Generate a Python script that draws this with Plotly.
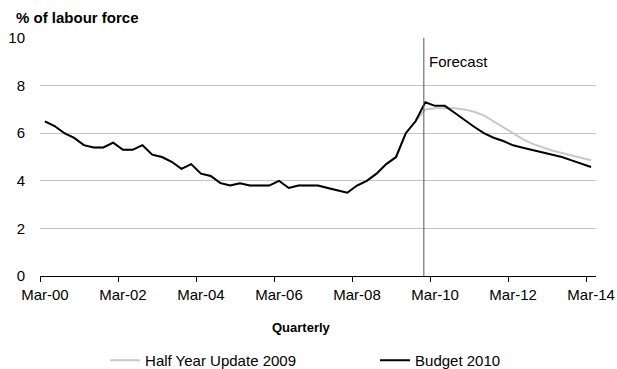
import plotly.graph_objects as go

# ---- data -------------------------------------------------------------
quarters = [f"{m}-{y:02d}" for y in range(0, 15) for m in ("Mar", "Jun", "Sep", "Dec")][:57]

budget_2010 = [
    6.5, 6.3, 6.0, 5.8, 5.5, 5.4, 5.4, 5.6, 5.3, 5.3,
    5.5, 5.1, 5.0, 4.8, 4.5, 4.7, 4.3, 4.2, 3.9, 3.8,
    3.9, 3.8, 3.8, 3.8, 4.0, 3.7, 3.8, 3.8, 3.8, 3.7,
    3.6, 3.5, 3.8, 4.0, 4.3, 4.7, 5.0, 6.0, 6.5, 7.3,
    7.15, 7.15, 6.86, 6.56, 6.27, 6.0, 5.81, 5.67, 5.49, 5.39,
    5.29, 5.19, 5.09, 5.0, 4.86, 4.72, 4.58,
]

half_year_update_2009 = [
    6.5, 6.3, 6.0, 5.8, 5.5, 5.4, 5.4, 5.6, 5.3, 5.3,
    5.5, 5.1, 5.0, 4.8, 4.5, 4.7, 4.3, 4.2, 3.9, 3.8,
    3.9, 3.8, 3.8, 3.8, 4.0, 3.7, 3.8, 3.8, 3.8, 3.7,
    3.6, 3.5, 3.8, 4.0, 4.3, 4.7, 5.0, 6.0, 6.5, 7.0,
    7.05, 7.05, 7.05, 7.0, 6.9, 6.75, 6.5, 6.25, 6.0, 5.75,
    5.55, 5.4, 5.27, 5.17, 5.07, 4.96, 4.86,
]

tick_labels = ["Mar-00", "Mar-02", "Mar-04", "Mar-06", "Mar-08", "Mar-10", "Mar-12", "Mar-14"]
forecast_label = "Forecast"
forecast_start = 38.85  # position between Sep-09 and Dec-09 quarters

# ---- derived ----------------------------------------------------------
x_idx = list(range(len(quarters)))
tick_positions = [quarters.index(t) for t in tick_labels]
boundary_ticks = [p - 0.5 for p in tick_positions]

FONT = "Liberation Sans, Arial, sans-serif"

fig = go.Figure()
fig.add_trace(go.Scatter(
    x=x_idx, y=half_year_update_2009, customdata=quarters,
    name="Half Year Update 2009", mode="lines",
    line=dict(color="#c8c8c8", width=2),
    hovertemplate="%{customdata}: %{y}<extra></extra>",
))
fig.add_trace(go.Scatter(
    x=x_idx, y=budget_2010, customdata=quarters,
    name="Budget 2010", mode="lines",
    line=dict(color="#000000", width=2),
    hovertemplate="%{customdata}: %{y}<extra></extra>",
))

fig.add_shape(type="line", xref="x", yref="y", x0=forecast_start, x1=forecast_start,
              y0=0, y1=10, line=dict(color="#555555", width=1))
fig.add_annotation(x=forecast_start, y=9, xref="x", yref="y", text=forecast_label,
                   showarrow=False, xanchor="left", yanchor="middle", xshift=3,
                   font=dict(family=FONT, size=15, color="#000000"))
fig.add_annotation(x=-0.047, y=1.085, xref="paper", yref="paper",
                   text="<b>% of labour force</b>", showarrow=False,
                   xanchor="left", yanchor="middle",
                   font=dict(family=FONT, size=15, color="#000000"))
fig.add_annotation(x=0.471, y=-0.215, xref="paper", yref="paper",
                   text="<b>Quarterly</b>", showarrow=False,
                   xanchor="center", yanchor="middle",
                   font=dict(family=FONT, size=13, color="#000000"))

fig.update_layout(
    width=617, height=369,
    margin=dict(l=40, r=21, t=38, b=93, autoexpand=False),
    paper_bgcolor="white", plot_bgcolor="white",
    font=dict(family=FONT, size=15, color="#000000"),
    showlegend=True,
    legend=dict(orientation="h", x=0.117, y=-0.355, xanchor="left", yanchor="middle",
                entrywidth=225, entrywidthmode="pixels",
                font=dict(family=FONT, size=15, color="#000000"),
                bgcolor="rgba(0,0,0,0)"),
    xaxis=dict(
        range=[-0.5, 56.5], showgrid=False, zeroline=False, automargin=False,
        showline=True, linecolor="#000000", linewidth=1,
        tickmode="array", tickvals=tick_positions, ticktext=tick_labels,
        ticks="", ticklabelstandoff=5, ticklabeloverflow="allow",
        minor=dict(tickmode="array", tickvals=boundary_ticks, ticks="outside",
                   ticklen=5, tickcolor="#000000", showgrid=False),
        tickfont=dict(family=FONT, size=15),
    ),
    yaxis=dict(
        range=[0, 10], dtick=2, tick0=0, showgrid=True, gridcolor="#c4c4c4",
        gridwidth=1, zeroline=False, showline=False, ticks="", automargin=False,
        ticklabelstandoff=14, tickfont=dict(family=FONT, size=15),
    ),
)

fig.write_html(
    "out.html",
    config={"displayModeBar": False},
    post_script="document.body.style.margin='0';document.body.style.overflow='hidden';",
)
